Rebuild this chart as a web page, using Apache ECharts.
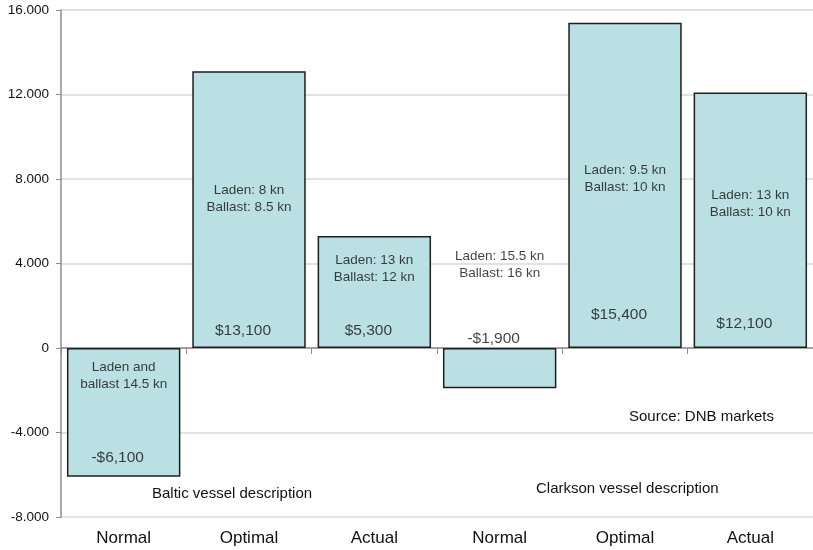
<!DOCTYPE html>
<html>
<head>
<meta charset="utf-8">
<script src="https://cdn.jsdelivr.net/npm/echarts@6/dist/echarts.min.js"></script>
<style>
  html, body { margin: 0; padding: 0; background: #fff; }
  #chart { width: 813px; height: 550px; }
</style>
</head>
<body>
<div id="chart"></div>
<script>
// Time-charter equivalent earnings by speed scenario (USD/day)
var categories = ['Normal', 'Optimal', 'Actual', 'Normal', 'Optimal', 'Actual'];
var earnings = [-6100, 13100, 5300, -1900, 15400, 12100];
var valueLabels = ['-$6,100', '$13,100', '$5,300', '-$1,900', '$15,400', '$12,100'];
var speedNotes = [
  'Laden and\nballast 14.5 kn',
  'Laden: 8 kn\nBallast: 8.5 kn',
  'Laden: 13 kn\nBallast: 12 kn',
  'Laden: 15.5 kn\nBallast: 16 kn',
  'Laden: 9.5 kn\nBallast: 10 kn',
  'Laden: 13 kn\nBallast: 10 kn'
];
// vertical anchor (in axis units) of each note and value caption
var noteAnchors = [-1300, 7050, 3760, 3930, 8000, 6840];
var valueAnchors = [-5200, 800, 800, 430, 1560, 1140];
var yTicks = { min: -8000, max: 16000, interval: 4000 };

var FONT = '"Liberation Sans", Arial, sans-serif';
var chart = echarts.init(document.getElementById('chart'), null, { renderer: 'canvas' });

function fmtThousands(v) {
  if (v === 0) return '0';
  var s = Math.abs(v).toString();
  var out = s.replace(/\B(?=(\d{3})+(?!\d))/g, '.');
  return (v < 0 ? '-' : '') + out;
}

chart.setOption({
  animation: false,
  grid: { left: 61, right: 0, top: 10, bottom: 33, containLabel: false },
  xAxis: [
    {
      type: 'category',
      data: categories,
      position: 'bottom',
      axisLine: { show: false, onZero: false },
      axisTick: { show: false },
      axisLabel: { color: '#111', fontFamily: FONT, fontSize: 17, margin: 13 }
    },
    {
      type: 'category',
      data: categories,
      position: 'top',
      axisLine: { show: true, onZero: true, lineStyle: { color: '#8c8c8c', width: 1.5 } },
      axisTick: { show: true, inside: true, length: 6, lineStyle: { color: '#8c8c8c' } },
      axisLabel: { show: false }
    }
  ],
  yAxis: {
    type: 'value',
    min: yTicks.min,
    max: yTicks.max,
    interval: yTicks.interval,
    axisLine: { show: true, lineStyle: { color: '#8c8c8c', width: 1.5 } },
    axisTick: { show: true, length: 5, lineStyle: { color: '#8c8c8c' } },
    splitLine: { show: true, lineStyle: { color: '#d9d9d9', width: 1.5 } },
    axisLabel: {
      color: '#111', fontFamily: FONT, fontSize: 13.5, margin: 12,
      formatter: fmtThousands
    }
  },
  graphic: [
    { type: 'text', left: 152, top: 486, style: { text: 'Baltic vessel description', fill: '#111', font: '15px ' + FONT } },
    { type: 'text', left: 536, top: 481, style: { text: 'Clarkson vessel description', fill: '#111', font: '15px ' + FONT } },
    { type: 'text', left: 629, top: 409, style: { text: 'Source: DNB markets', fill: '#111', font: '15px ' + FONT } }
  ],
  series: [
    {
      type: 'bar',
      xAxisIndex: 0,
      data: earnings,
      barCategoryGap: '9.5%',
      itemStyle: { color: '#bae0e3', borderColor: '#1e1e1e', borderWidth: 1.5 },
      z: 2
    },
    {
      type: 'scatter',
      xAxisIndex: 0,
      symbolSize: 0,
      silent: true,
      data: speedNotes.map(function (t, i) { return { value: [i, noteAnchors[i]], label: { formatter: t } }; }),
      label: {
        show: true, position: 'inside', color: '#111', fontFamily: FONT,
        fontSize: 13.5, lineHeight: 17, align: 'center', verticalAlign: 'middle'
      },
      z: 5
    },
    {
      type: 'scatter',
      xAxisIndex: 0,
      symbolSize: 0,
      silent: true,
      data: valueLabels.map(function (t, i) { return { value: [i, valueAnchors[i]], label: { formatter: t } }; }),
      label: {
        show: true, position: 'inside', color: '#111', fontFamily: FONT,
        fontSize: 15.5, align: 'center', verticalAlign: 'middle', offset: [-6, 0]
      },
      z: 5
    }
  ]
});
</script>
</body>
</html>
